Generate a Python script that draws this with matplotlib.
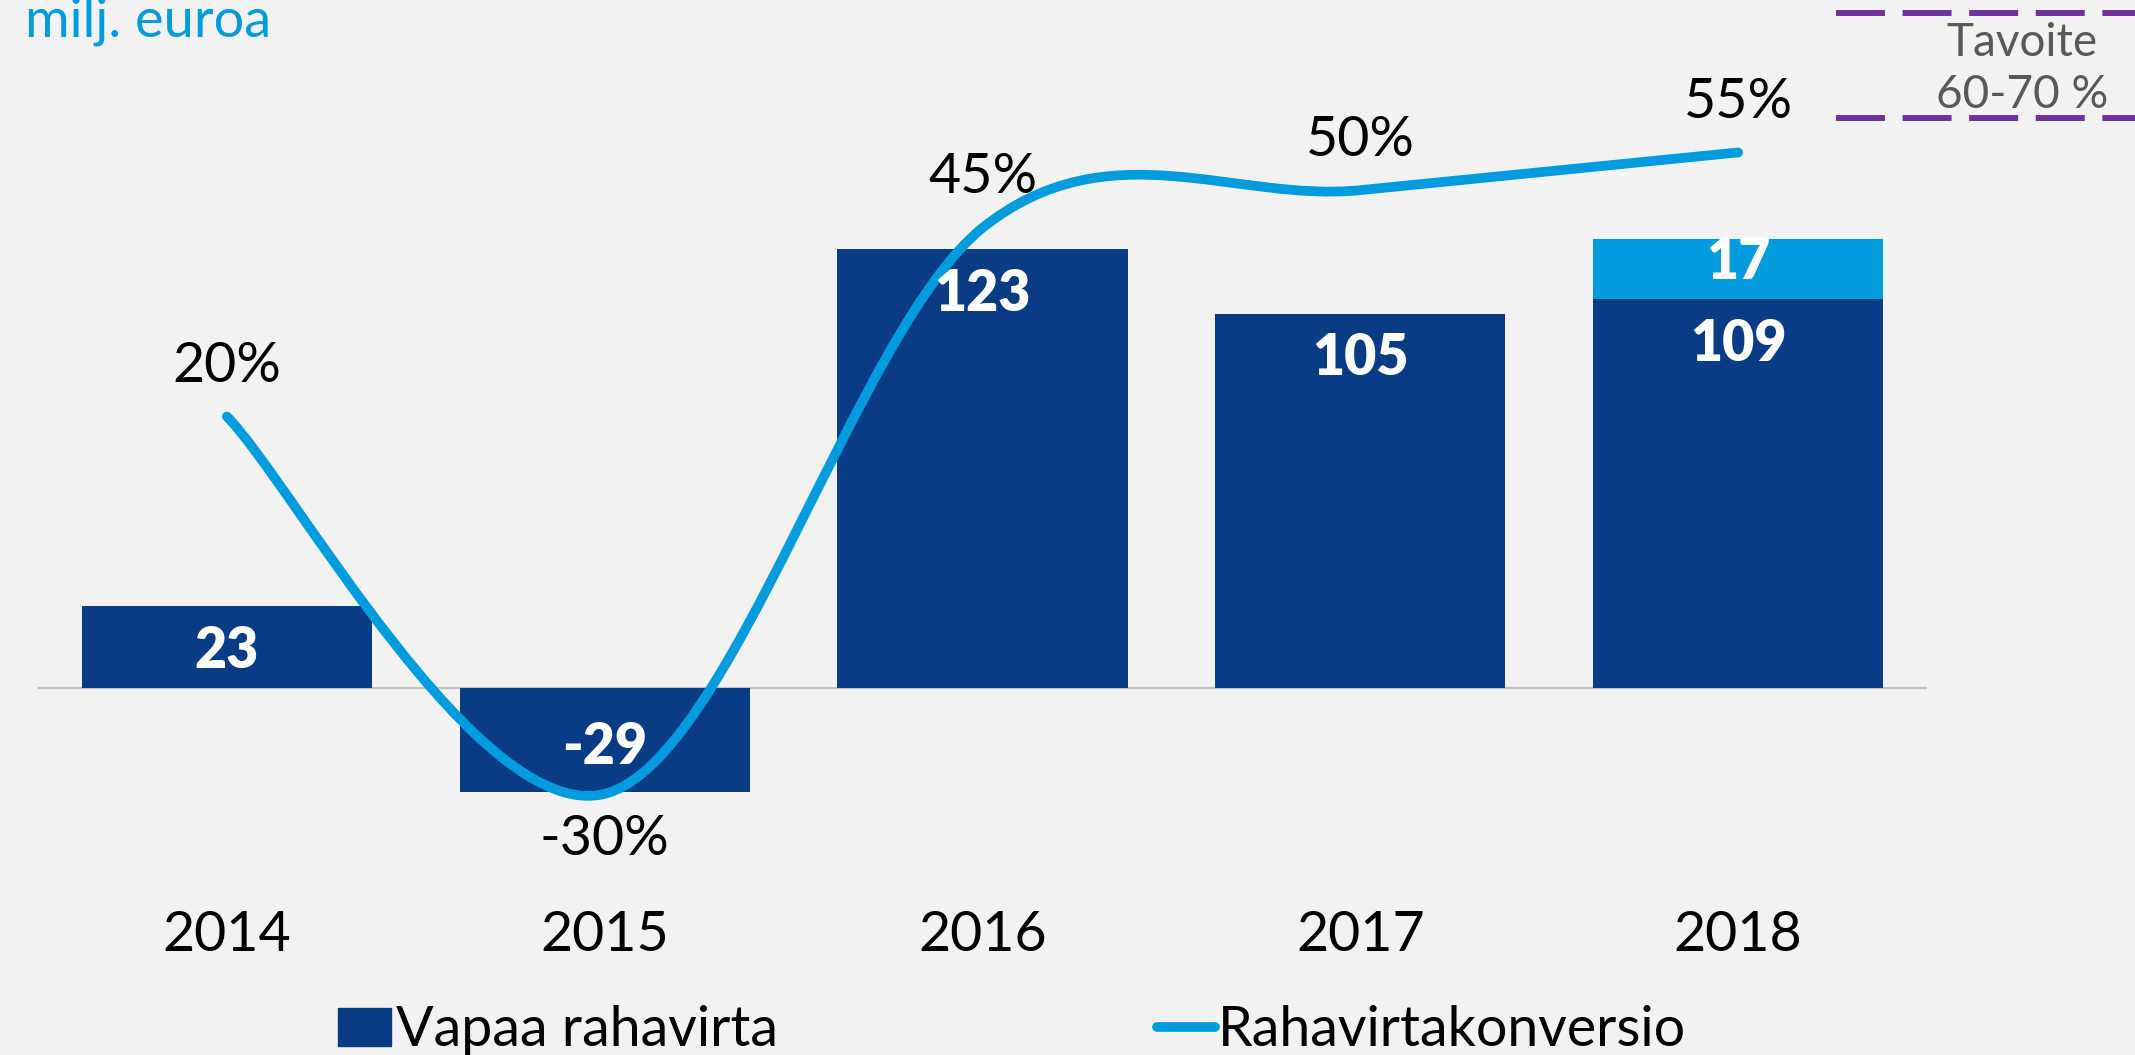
import matplotlib
matplotlib.use("Agg")
import matplotlib.pyplot as plt
from matplotlib.lines import Line2D
from matplotlib.patches import Patch, PathPatch
from matplotlib.path import Path

plt.rcParams["font.family"] = ["Lato", "DejaVu Sans"]

# data
years = ["2014", "2015", "2016", "2017", "2018"]
free_cash_flow = [23, -29, 123, 105, 109]
extra_2018 = [0, 0, 0, 0, 17]
conversion_pct = [20, -30, 45, 50, 55]

DARK = "#0A3C86"
LIGHT = "#009CDE"
BG = "#F2F2F2"

W, H = 2135, 1055
fig = plt.figure(figsize=(W / 100, H / 100), dpi=100)
fig.patch.set_facecolor(BG)

# axes placed in pixel terms: left 38, right 1927, top 0, bottom 900
ax = fig.add_axes([38 / W, (H - 900) / H, (1927 - 38) / W, 900 / H])
ax.patch.set_visible(False)
ax2 = ax.twinx()
ax2.patch.set_visible(False)

x = list(range(len(years)))
ax.set_xlim(-0.5, 4.5)
ax.set_ylim(-59.4, 192.9)
ax2.set_ylim(-44.07, 75.2)

bars = ax.bar(x, free_cash_flow, width=0.768, color=DARK, zorder=2)
top = ax.bar(x, extra_2018, bottom=free_cash_flow, width=0.768, color=LIGHT, zorder=2)
ax.axhline(0, color="#BFBFBF", lw=1.5, zorder=1)

# smoothed conversion line (Catmull-Rom style bezier, like the spreadsheet smoothing)
pts = list(zip(x, conversion_pct))
verts = [pts[0]]
codes = [Path.MOVETO]
n = len(pts)
for i in range(n - 1):
    p0 = pts[max(i - 1, 0)]
    p1 = pts[i]
    p2 = pts[i + 1]
    p3 = pts[min(i + 2, n - 1)]
    c1 = (p1[0] + (p2[0] - p0[0]) / 6, p1[1] + (p2[1] - p0[1]) / 6)
    c2 = (p2[0] - (p3[0] - p1[0]) / 6, p2[1] - (p3[1] - p1[1]) / 6)
    verts += [c1, c2, p2]
    codes += [Path.CURVE4] * 3
ax2.add_patch(PathPatch(Path(verts, codes), fill=False, edgecolor=LIGHT, lw=7,
                        capstyle="round", joinstyle="round", zorder=3))

# percent labels
for xi, v in zip(x, conversion_pct):
    off = -33 if v < 0 else 36
    ax2.annotate(f"{v}%", (xi, v), xytext=(0, off), textcoords="offset points",
                 ha="center", va="center", fontsize=40, color="black", zorder=5)

# bar value labels (drawn on ax2 so they sit above the line)
for xi, v in zip(x, free_cash_flow):
    off = 32 if v < 0 else -32
    ax2.annotate(f"{v}", (xi, v), xycoords=ax.transData, xytext=(0, off),
                 textcoords="offset points", ha="center", va="center",
                 fontsize=40, fontweight="heavy", color="white", zorder=6)
for xi, b, v in zip(x, free_cash_flow, extra_2018):
    if v:
        ax2.annotate(f"{v}", (xi, b + v / 2 + 2), xycoords=ax.transData,
                     ha="center", va="center", fontsize=40, fontweight="heavy",
                     color="white", zorder=6)

ax.set_xticks(x, years)
ax.tick_params(axis="x", length=0, pad=7, labelsize=40)
ax.tick_params(axis="y", left=False, labelleft=False)
ax2.tick_params(axis="y", right=False, labelright=False)
for a in (ax, ax2):
    for s in a.spines.values():
        s.set_visible(False)

# legends
ax.legend([Patch(color=DARK)], ["Vapaa rahavirta"], loc="center left",
          bbox_to_anchor=(338 / W, 1 - 1031 / H), bbox_transform=fig.transFigure,
          frameon=False, borderpad=0, borderaxespad=0, handlelength=0.95,
          handleheight=0.65, handletextpad=0.1, fontsize=40)
ax2.legend([Line2D([0], [0], color=LIGHT, lw=7, solid_capstyle="round")],
           ["Rahavirtakonversio"], loc="center left",
           bbox_to_anchor=(1157 / W, 1 - 1031 / H), bbox_transform=fig.transFigure,
           frameon=False, borderpad=0, borderaxespad=0, handlelength=1.05,
           handletextpad=0.05, fontsize=40)

# unit title
fig.text(25 / W, 1 - 37 / H, "milj. euroa", fontsize=39, color=LIGHT, va="baseline")

# target band annotation
for ypx in (12.7, 118):
    fig.add_artist(Line2D([1836 / W, 1.02], [1 - ypx / H, 1 - ypx / H], color="#7030A0",
                          lw=4.3, linestyle=(0, (8.2, 2.95)), dash_capstyle="butt"))
fig.text(2022 / W, 1 - 43 / H, "Tavoite", fontsize=33, color="#595959", ha="center", va="center")
fig.text(2022 / W, 1 - 95 / H, "60-70 %", fontsize=33, color="#595959", ha="center", va="center")

fig.savefig("out.png", dpi=100, facecolor=BG)
